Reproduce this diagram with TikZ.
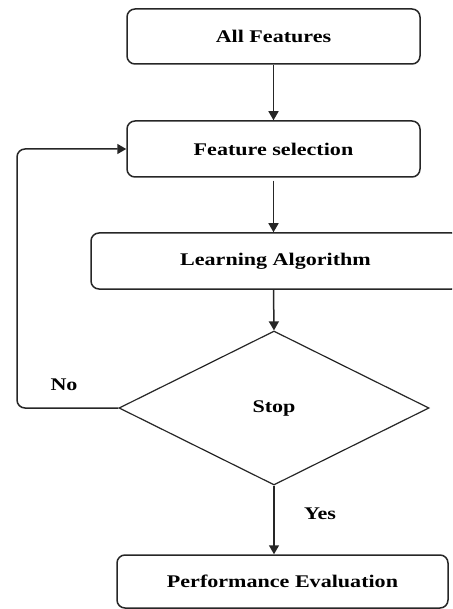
\documentclass[tikz,border=0pt]{standalone}
\usepackage{fontspec}
\setmainfont{Liberation Serif}[FakeStretch=1.24]
\usetikzlibrary{shapes.geometric,arrows.meta}
\begin{document}
\begin{tikzpicture}[x=1pt,y=1pt,
  box/.style={draw=black!85,line width=1.5pt,rounded corners=8pt,inner sep=0pt,
    font=\fontsize{17.8}{20}\selectfont\bfseries},
  dia/.style={draw=black!85,line width=1.2pt,diamond,inner sep=0pt,
    font=\fontsize{17.8}{20}\selectfont\bfseries},
  lbl/.style={font=\fontsize{17.8}{20}\selectfont\bfseries,inner sep=0pt},
  arr/.style={draw=black!85,line width=1.5pt,-{Triangle[length=9pt,width=10pt]}}]
\useasboundingbox (0,0) rectangle (452,-609);
\clip (0,0) rectangle (452,-609);
\node[box,minimum width=293,minimum height=55] (all) at (273.5,-36.5) {All Features};
\node[box,minimum width=293,minimum height=56] (fs) at (273.5,-149) {Feature selection};
\node[box,minimum width=369,minimum height=56] (la) at (275.5,-261) {Learning Algorithm};
\node[dia,minimum width=310,minimum height=154] (stop) at (274,-408) {Stop};
\node[box,minimum width=331,minimum height=53] (pe) at (282.5,-581.5) {Performance Evaluation};
\node[lbl] (no) at (64,-385) {No};
\node[lbl] (yes) at (320,-514) {Yes};
\draw[arr] (all.south -| 273.5,0) -- (fs.north -| 273.5,0);
\draw[arr,shorten <=3pt] (fs.south -| 273.5,0) -- (la.north -| 273.5,0);
\draw[arr] (la.south -| 273.5,0) -- (stop.north);
\draw[arr] (stop.south) -- (pe.north -| stop.south);
\draw[arr,rounded corners=8pt] (stop.west) -- (17,-408) -- (17,-149) -- (fs.west);
\end{tikzpicture}
\end{document}
